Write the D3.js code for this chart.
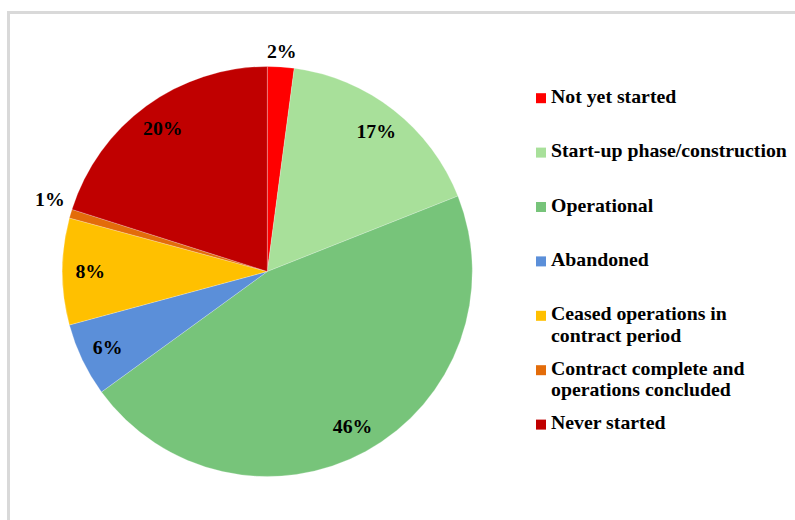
<!DOCTYPE html>
<html><head><meta charset="utf-8">
<script src="https://cdn.jsdelivr.net/npm/d3@7"></script>
<style>html,body{margin:0;padding:0;background:#fff;}svg{display:block;}</style>
</head><body>
<svg id="chart" width="795" height="520"></svg>
<script>
const categories = ["Not yet started","Start-up phase/construction","Operational","Abandoned","Ceased operations in contract period","Contract complete and operations concluded","Never started"];
const legendLines = [["Not yet started"],["Start-up phase/construction"],["Operational"],["Abandoned"],["Ceased operations in","contract period"],["Contract complete and","operations concluded"],["Never started"]];
const values = [2.1, 16.9, 46.0, 5.8, 8.4, 0.7, 20.1];
const labels = ["2%","17%","46%","6%","8%","1%","20%"];
const colors = ["#FF0000","#A8E09A","#77C47A","#5B8FD9","#FFC000","#E36C0A","#C00000"];

const svg = d3.select("#chart");
svg.append("rect").attr("x",8.5).attr("y",12.5).attr("width",820).attr("height",540)
  .attr("fill","#fff").attr("stroke","#d9d9d9").attr("stroke-width",3);

const cx = 267.3, cy = 271.5, R = 205;
const g = svg.append("g").attr("transform",`translate(${cx},${cy})`);
const pie = d3.pie().sort(null).value(d=>d)(values);
const arc = d3.arc().innerRadius(0).outerRadius(R);
g.selectAll("path").data(pie).join("path")
  .attr("d",arc).attr("fill",(d,i)=>colors[i])
  .attr("stroke","#fff").attr("stroke-width",0.4).attr("stroke-opacity",0.6);

const font = "'Liberation Serif','Times New Roman',serif";
const SX = 1.1;
function labelPos(d,i){
  const a = (d.startAngle+d.endAngle)/2;
  if (values[i] < 3) {
    const s = Math.abs(Math.sin(a));
    const r = R + 14 + 8*s;
    return [r*Math.sin(a), -r*Math.cos(a) - 8*s];
  }
  const r = 177;
  return [r*Math.sin(a), -r*Math.cos(a)];
}
g.selectAll("text.lbl").data(pie).join("text").attr("class","lbl")
  .attr("transform",(d,i)=>{const p=labelPos(d,i);return `translate(${p[0]},${p[1]}) scale(${SX},1)`;})
  .attr("text-anchor","middle").attr("dy","0.35em")
  .attr("font-family",font).attr("font-weight","bold").attr("font-size",18)
  .attr("fill","#000")
  .text((d,i)=>labels[i]);

const ly = d3.scaleLinear().domain([0,6]).range([102.7,429.1]);
const leg = svg.append("g");
categories.forEach((c,i)=>{
  const y = ly(i);
  leg.append("rect").attr("x",536).attr("y",y-9.5).attr("width",10).attr("height",10).attr("fill",colors[i]);
  const t = leg.append("text").attr("transform",`translate(551,${y}) scale(${SX},1)`)
    .attr("font-family",font).attr("font-weight","bold").attr("font-size",18)
    .attr("fill","#000");
  legendLines[i].forEach((ln,j)=>{
    t.append("tspan").attr("x",0).attr("dy",j===0?0:21.8).text(ln);
  });
});
</script>
</body></html>
